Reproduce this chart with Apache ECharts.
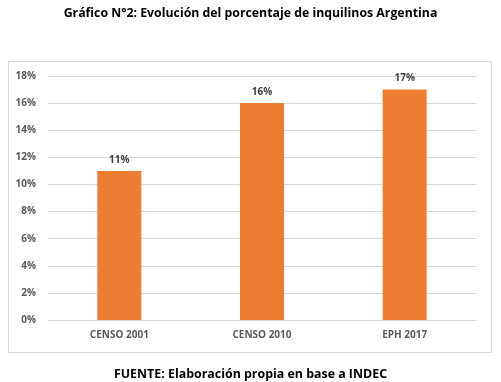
<!DOCTYPE html>
<html><head><meta charset="utf-8">
<script src="https://cdn.jsdelivr.net/npm/echarts@6/dist/echarts.min.js"></script>
<style>html,body{margin:0;padding:0;background:#fff}#c{width:501px;height:382px}</style>
</head><body><div id="c"></div>
<script>
const categories = ['CENSO 2001', 'CENSO 2010', 'EPH 2017'];
const values = [11, 16, 17];
const yTicks = [0, 2, 4, 6, 8, 10, 12, 14, 16, 18];
const chart = echarts.init(document.getElementById('c'));
const F = '"Open Sans", sans-serif';
chart.setOption({
  animation: false,
  title: [
    {text: 'Gráfico N°2: Evolución del porcentaje de inquilinos Argentina', left: 'center', top: 2,
     textStyle: {fontFamily: F, fontSize: 12.3, fontWeight: 'bold', color: '#000'}},
    {text: 'FUENTE: Elaboración propia en base a INDEC', left: 'center', top: 363,
     textStyle: {fontFamily: F, fontSize: 12.4, fontWeight: 'bold', color: '#000'}}
  ],
  graphic: [{type: 'rect', shape: {x: 8.5, y: 61.5, width: 483, height: 291},
    style: {fill: 'none', stroke: '#d9d9d9', lineWidth: 1}, silent: true}],
  grid: {left: 48, right: 25, top: 76, bottom: 62},
  xAxis: {type: 'category', data: categories,
    axisLine: {show: true, lineStyle: {color: '#d9d9d9'}}, axisTick: {show: false},
    axisLabel: {fontFamily: F, fontSize: 10, fontWeight: 'bold', color: '#595959', margin: 10}},
  yAxis: {type: 'value', min: 0, max: 18, interval: 2,
    axisLine: {show: false}, axisTick: {show: false},
    splitLine: {lineStyle: {color: '#d9d9d9'}},
    axisLabel: {fontFamily: F, fontSize: 10, fontWeight: 'bold', color: '#595959', margin: 12,
      formatter: v => yTicks.includes(v) ? v + '%' : ''}},
  series: [{type: 'bar', data: values, barWidth: 44,
    itemStyle: {color: '#ed7d31'},
    label: {show: true, position: 'top', distance: 6, formatter: p => p.value + '%',
      fontFamily: F, fontSize: 10, fontWeight: 'bold', color: '#404040'}}]
});
</script></body></html>
